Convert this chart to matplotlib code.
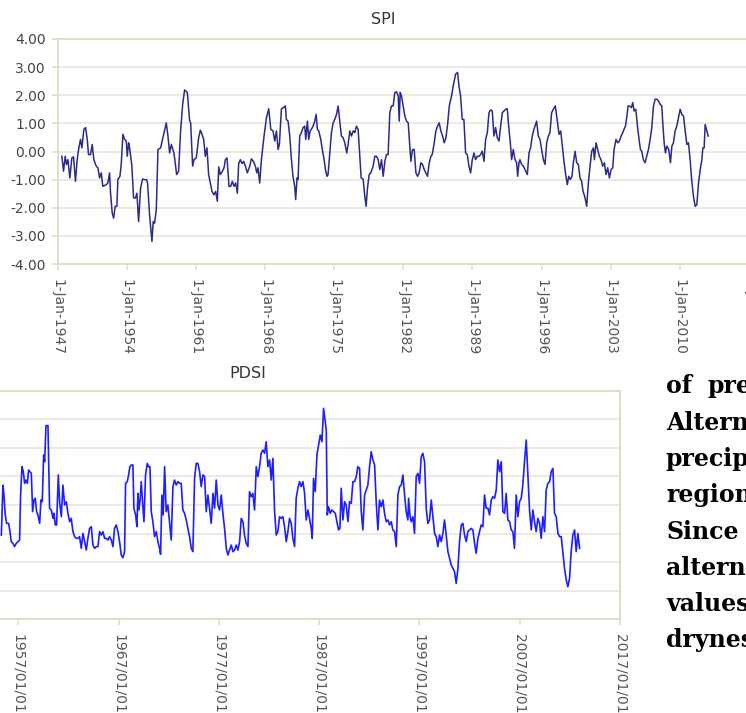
# SPI / PDSI drought index time series -----------------------------------

import matplotlib.pyplot as plt
from matplotlib.ticker import FormatStrFormatter


# Data ---------------------------------------------------------------------
# SPI (decimal year, index value)
spi_year = [
    1947.44, 1947.61, 1947.78, 1947.91, 1948.05, 1948.25, 1948.45, 1948.62,
    1948.82, 1948.99, 1949.16, 1949.33, 1949.47, 1949.67, 1949.84, 1950.01,
    1950.14, 1950.34, 1950.51, 1950.68, 1950.92, 1951.09, 1951.26, 1951.43,
    1951.59, 1951.76, 1951.93, 1952.10, 1952.27, 1952.37, 1952.54, 1952.68,
    1952.84, 1953.01, 1953.11, 1953.32, 1953.45, 1953.62, 1953.79, 1953.96,
    1954.06, 1954.20, 1954.30, 1954.53, 1954.70, 1954.90, 1955.04, 1955.21,
    1955.41, 1955.61, 1955.82, 1956.02, 1956.12, 1956.32, 1956.56, 1956.69,
    1956.83, 1957.00, 1957.17, 1957.44, 1957.67, 1958.01, 1958.18, 1958.35,
    1958.52, 1958.79, 1959.06, 1959.26, 1959.46, 1959.67, 1959.87, 1960.14,
    1960.38, 1960.48, 1960.68, 1960.82, 1961.05, 1961.29, 1961.46, 1961.63,
    1961.80, 1961.96, 1962.13, 1962.30, 1962.44, 1962.64, 1962.84, 1963.01,
    1963.18, 1963.32, 1963.48, 1963.69, 1963.86, 1963.99, 1964.16, 1964.36,
    1964.53, 1964.70, 1964.87, 1965.04, 1965.21, 1965.34, 1965.51, 1965.68,
    1965.85, 1966.02, 1966.22, 1966.46, 1966.63, 1966.83, 1967.03, 1967.17,
    1967.30, 1967.47, 1967.64, 1967.91, 1968.15, 1968.38, 1968.59, 1968.82,
    1968.99, 1969.16, 1969.33, 1969.46, 1969.67, 1969.87, 1970.07, 1970.17,
    1970.34, 1970.51, 1970.68, 1970.84, 1971.01, 1971.11, 1971.25, 1971.35,
    1971.52, 1971.69, 1971.86, 1972.03, 1972.13, 1972.30, 1972.43, 1972.57,
    1972.70, 1972.87, 1973.04, 1973.18, 1973.31, 1973.45, 1973.65, 1973.78,
    1973.99, 1974.12, 1974.29, 1974.39, 1974.56, 1974.73, 1974.90, 1975.07,
    1975.24, 1975.41, 1975.57, 1975.74, 1975.91, 1976.08, 1976.28, 1976.42,
    1976.59, 1976.76, 1976.93, 1977.09, 1977.26, 1977.43, 1977.60, 1977.74,
    1977.94, 1978.11, 1978.24, 1978.38, 1978.55, 1978.72, 1978.95, 1979.12,
    1979.29, 1979.46, 1979.63, 1979.80, 1979.97, 1980.14, 1980.30, 1980.47,
    1980.64, 1980.81, 1980.98, 1981.15, 1981.32, 1981.49, 1981.59, 1981.69,
    1981.82, 1981.99, 1982.16, 1982.33, 1982.50, 1982.64, 1982.77, 1982.94,
    1983.11, 1983.28, 1983.45, 1983.61, 1983.78, 1983.95, 1984.12, 1984.29,
    1984.46, 1984.63, 1984.80, 1984.93, 1985.14, 1985.30, 1985.47, 1985.64,
    1985.81, 1985.98, 1986.15, 1986.32, 1986.49, 1986.66, 1986.89, 1987.09,
    1987.30, 1987.50, 1987.64, 1987.80, 1987.97, 1988.14, 1988.31, 1988.48,
    1988.65, 1988.82, 1988.99, 1989.16, 1989.32, 1989.49, 1989.66, 1989.83,
    1990.00, 1990.17, 1990.34, 1990.51, 1990.68, 1990.84, 1991.01, 1991.18,
    1991.35, 1991.52, 1991.69, 1991.86, 1992.03, 1992.20, 1992.36, 1992.53,
    1992.70, 1992.84, 1992.97, 1993.14, 1993.31, 1993.48, 1993.58, 1993.72,
    1993.81, 1993.98, 1994.15, 1994.32, 1994.56, 1994.73, 1994.89, 1995.06,
    1995.23, 1995.44, 1995.50, 1995.67, 1995.84, 1996.01, 1996.18, 1996.35,
    1996.52, 1996.69, 1996.85, 1997.02, 1997.19, 1997.39, 1997.60, 1997.77,
    1997.94, 1998.10, 1998.27, 1998.44, 1998.61, 1998.75, 1998.91, 1999.08,
    1999.22, 1999.39, 1999.56, 1999.73, 1999.89, 2000.06, 2000.20, 2000.37,
    2000.57, 2000.74, 2000.91, 2001.08, 2001.25, 2001.35, 2001.52, 2001.69,
    2001.85, 2002.02, 2002.19, 2002.36, 2002.53, 2002.70, 2002.87, 2003.04,
    2003.21, 2003.34, 2003.54, 2003.71, 2003.88, 2004.05, 2004.22, 2004.35,
    2004.49, 2004.62, 2004.76, 2004.89, 2005.10, 2005.23, 2005.37, 2005.54,
    2005.71, 2005.87, 2006.01, 2006.14, 2006.31, 2006.48, 2006.65, 2006.82,
    2006.99, 2007.16, 2007.33, 2007.50, 2007.66, 2007.83, 2008.00, 2008.17,
    2008.27, 2008.41, 2008.54, 2008.68, 2008.88, 2009.05, 2009.19, 2009.35,
    2009.52, 2009.69, 2009.86, 2010.03, 2010.20, 2010.37, 2010.54, 2010.71,
    2010.87, 2011.04, 2011.21, 2011.38, 2011.55, 2011.72, 2011.89, 2012.06,
    2012.23, 2012.33, 2012.46, 2012.56, 2012.73, 2012.87,
]
spi_value = [
    -0.17, -0.70, -0.17, -0.46, -0.29, -0.94, -0.23, -0.19,
    -1.06, -0.29, 0.13, 0.43, 0.13, 0.79, 0.85, 0.43,
    -0.11, -0.11, 0.25, -0.29, -0.52, -0.58, -0.94, -0.76,
    -1.24, -1.21, -1.18, -1.12, -0.76, -1.48, -2.19, -2.37,
    -1.95, -1.95, -1.00, -0.88, -0.46, 0.61, 0.43, 0.37,
    -0.17, 0.31, 0.13, -0.52, -1.65, -1.65, -1.48, -2.49,
    -1.30, -0.98, -1.00, -1.00, -1.14, -2.25, -3.20, -2.49,
    -2.55, -2.07, 0.07, 0.13, 0.49, 1.02, 0.55, -0.05,
    0.25, -0.05, -0.82, -0.70, 0.73, 1.68, 2.19, 2.10,
    1.08, 1.02, -0.52, -0.29, -0.23, 0.49, 0.76, 0.61,
    0.43, -0.17, 0.13, -0.82, -1.06, -1.42, -1.54, -1.42,
    -1.77, -0.55, -0.82, -0.70, -0.58, -0.29, -0.23, -1.24,
    -1.24, -1.06, -1.24, -1.12, -1.48, -0.43, -0.29, -0.43,
    -0.35, -0.52, -0.76, -0.52, -0.26, -0.35, -0.52, -0.76,
    -0.58, -1.12, -0.29, 0.55, 1.20, 1.52, 0.79, 0.73,
    0.37, 0.73, 0.07, 0.25, 1.52, 1.56, 1.62, 1.14,
    1.08, 0.55, -0.29, -0.88, -1.24, -1.71, -0.94, -1.00,
    0.55, 0.67, 0.85, 0.90, 0.43, 1.08, 0.43, 0.73,
    0.79, 0.90, 1.08, 1.32, 0.79, 0.73, 0.43, 0.13,
    -0.29, -0.64, -0.88, -0.82, -0.05, 0.67, 1.02, 1.14,
    1.32, 1.62, 1.08, 0.55, 0.49, 0.31, -0.05, 0.25,
    0.73, 0.55, 0.73, 0.67, 0.90, 0.79, -0.17, -0.94,
    -0.98, -1.60, -1.95, -1.30, -0.82, -0.76, -0.52, -0.17,
    -0.17, -0.29, -0.64, -0.29, -0.88, -0.35, -0.11, -0.11,
    1.38, 1.62, 1.62, 2.10, 2.12, 1.98, 1.08, 2.10,
    1.98, 1.62, 1.26, 1.08, 1.02, 0.31, -0.35, 0.07,
    0.07, -0.76, -0.88, -0.76, -0.40, -0.46, -0.64, -0.76,
    -0.88, -0.40, -0.17, -0.11, 0.31, 0.73, 0.90, 1.02,
    0.73, 0.55, 0.31, 0.49, 0.96, 1.62, 1.98, 2.39,
    2.75, 2.81, 2.33, 1.98, 1.14, 1.14, -0.05, -0.11,
    -0.52, -0.76, -0.29, -0.05, -0.29, -0.17, -0.17, -0.11,
    0.01, -0.35, 0.43, 0.67, 1.38, 1.48, 1.44, 0.55,
    0.85, 0.49, 0.37, 0.90, 1.38, 1.44, 1.50, 1.52,
    0.79, 0.31, -0.29, 0.07, -0.29, -0.40, -0.88, -0.40,
    -0.29, -0.46, -0.52, -0.64, -0.82, -0.05, 0.13, 0.55,
    0.79, 1.02, 1.08, 0.55, 0.43, 0.07, -0.29, -0.46,
    0.31, 0.55, 0.67, 1.38, 1.50, 1.62, 1.08, 0.61,
    0.73, 0.19, -0.35, -0.82, -1.18, -0.88, -1.00, -0.88,
    -0.40, 0.01, -0.40, -0.46, -0.94, -1.06, -1.42, -1.60,
    -1.95, -1.12, -0.52, 0.01, 0.13, -0.29, 0.31, 0.07,
    -0.17, -0.29, -0.52, -0.40, -0.82, -0.58, -0.94, -0.64,
    -0.58, 0.07, 0.43, 0.31, 0.37, 0.55, 0.67, 0.79,
    0.90, 1.20, 1.62, 1.62, 1.56, 1.74, 1.44, 1.50,
    0.90, 0.43, 0.07, 0.01, -0.29, -0.40, -0.17, 0.07,
    0.43, 0.85, 1.62, 1.86, 1.86, 1.80, 1.68, 1.62,
    1.02, 0.31, -0.05, 0.19, 0.07, -0.40, 0.19, 0.31,
    0.73, 0.90, 1.20, 1.50, 1.32, 1.26, 0.73, 0.25,
    0.31, -0.29, -1.06, -1.60, -1.95, -1.89, -1.12, -0.64,
    -0.29, 0.13, 0.13, 0.96, 0.73, 0.55,
]

# PDSI (decimal year, index value)
pdsi_year = [
    1955.31, 1955.47, 1955.57, 1955.70, 1955.84, 1956.04, 1956.17, 1956.30,
    1956.47, 1956.63, 1956.80, 1956.97, 1957.13, 1957.23, 1957.37, 1957.50,
    1957.63, 1957.76, 1957.90, 1958.03, 1958.16, 1958.30, 1958.43, 1958.56,
    1958.69, 1958.83, 1958.96, 1959.13, 1959.26, 1959.39, 1959.53, 1959.63,
    1959.76, 1959.96, 1960.12, 1960.29, 1960.46, 1960.56, 1960.69, 1960.82,
    1960.99, 1961.12, 1961.29, 1961.45, 1961.62, 1961.79, 1961.95, 1962.12,
    1962.28, 1962.45, 1962.62, 1962.78, 1962.95, 1963.11, 1963.28, 1963.45,
    1963.61, 1963.78, 1963.94, 1964.11, 1964.28, 1964.44, 1964.61, 1964.78,
    1964.94, 1965.11, 1965.27, 1965.44, 1965.61, 1965.77, 1965.94, 1966.10,
    1966.27, 1966.44, 1966.60, 1966.77, 1966.94, 1967.10, 1967.27, 1967.43,
    1967.60, 1967.70, 1967.87, 1968.00, 1968.13, 1968.27, 1968.43, 1968.53,
    1968.70, 1968.83, 1968.93, 1969.03, 1969.16, 1969.26, 1969.40, 1969.53,
    1969.69, 1969.86, 1969.99, 1970.13, 1970.26, 1970.42, 1970.59, 1970.76,
    1970.92, 1971.09, 1971.19, 1971.32, 1971.45, 1971.59, 1971.75, 1971.92,
    1972.09, 1972.25, 1972.42, 1972.58, 1972.75, 1972.92, 1973.08, 1973.25,
    1973.41, 1973.58, 1973.75, 1973.91, 1974.08, 1974.25, 1974.41, 1974.58,
    1974.74, 1974.91, 1975.08, 1975.24, 1975.41, 1975.58, 1975.74, 1975.91,
    1976.07, 1976.24, 1976.41, 1976.57, 1976.74, 1976.91, 1977.07, 1977.24,
    1977.40, 1977.57, 1977.74, 1977.90, 1978.07, 1978.24, 1978.40, 1978.57,
    1978.73, 1978.90, 1979.07, 1979.23, 1979.40, 1979.56, 1979.73, 1979.90,
    1980.06, 1980.23, 1980.39, 1980.56, 1980.73, 1980.89, 1981.06, 1981.22,
    1981.39, 1981.56, 1981.72, 1981.89, 1982.06, 1982.22, 1982.39, 1982.55,
    1982.72, 1982.89, 1983.05, 1983.22, 1983.38, 1983.55, 1983.72, 1983.88,
    1984.05, 1984.22, 1984.38, 1984.55, 1984.71, 1984.88, 1985.05, 1985.21,
    1985.38, 1985.55, 1985.71, 1985.88, 1986.04, 1986.21, 1986.31, 1986.44,
    1986.61, 1986.78, 1986.94, 1987.11, 1987.28, 1987.44, 1987.61, 1987.71,
    1987.81, 1987.94, 1988.11, 1988.27, 1988.44, 1988.61, 1988.77, 1988.94,
    1989.07, 1989.20, 1989.37, 1989.54, 1989.70, 1989.87, 1990.03, 1990.20,
    1990.37, 1990.53, 1990.70, 1990.86, 1991.03, 1991.20, 1991.36, 1991.53,
    1991.70, 1991.86, 1992.03, 1992.19, 1992.36, 1992.53, 1992.69, 1992.86,
    1993.02, 1993.19, 1993.36, 1993.52, 1993.69, 1993.86, 1994.02, 1994.19,
    1994.35, 1994.52, 1994.69, 1994.85, 1995.02, 1995.19, 1995.35, 1995.52,
    1995.68, 1995.85, 1995.92, 1996.05, 1996.18, 1996.35, 1996.51, 1996.68,
    1996.85, 1997.01, 1997.18, 1997.34, 1997.51, 1997.68, 1997.84, 1998.01,
    1998.18, 1998.34, 1998.51, 1998.67, 1998.84, 1999.01, 1999.17, 1999.34,
    1999.50, 1999.67, 1999.84, 2000.00, 2000.17, 2000.34, 2000.50, 2000.67,
    2000.84, 2001.00, 2001.17, 2001.33, 2001.50, 2001.67, 2001.83, 2002.00,
    2002.16, 2002.33, 2002.50, 2002.66, 2002.83, 2003.00, 2003.16, 2003.33,
    2003.49, 2003.66, 2003.83, 2003.99, 2004.16, 2004.32, 2004.49, 2004.66,
    2004.82, 2004.99, 2005.16, 2005.32, 2005.49, 2005.65, 2005.82, 2005.99,
    2006.15, 2006.32, 2006.48, 2006.65, 2006.82, 2006.98, 2007.15, 2007.31,
    2007.48, 2007.65, 2007.81, 2007.98, 2008.15, 2008.31, 2008.48, 2008.64,
    2008.81, 2008.98, 2009.14, 2009.31, 2009.48, 2009.64, 2009.81, 2009.98,
    2010.14, 2010.31, 2010.47, 2010.64, 2010.81, 2010.97, 2011.14, 2011.30,
    2011.47, 2011.64, 2011.80, 2011.97, 2012.13, 2012.30, 2012.47, 2012.63,
    2012.80, 2012.97,
]
pdsi_value = [
    -2.11, 1.40, 0.70, -0.70, -1.29, -1.29, -1.87, -2.57,
    -2.69, -2.92, -2.69, -2.57, -2.46, 0.70, 2.69, 2.34,
    1.52, 1.75, 1.52, 2.46, 2.34, 2.22, -0.47, 0.35,
    0.47, -0.47, -0.70, -1.29, 0.35, 0.23, 3.51, 3.04,
    5.57, 5.57, -0.23, -0.35, -0.94, -0.58, -1.40, -1.40,
    2.11, 0.23, -0.82, 1.40, 0.00, 0.23, -0.58, -1.17,
    -0.94, -1.87, -2.22, -2.34, -2.34, -2.22, -3.04, -1.99,
    -2.57, -3.16, -2.34, -1.64, -1.52, -2.81, -3.04, -2.92,
    -2.92, -1.87, -2.11, -1.87, -2.34, -2.34, -2.46, -2.22,
    -2.46, -2.92, -1.64, -1.40, -1.87, -2.57, -3.51, -3.70,
    -3.27, 1.52, 1.64, 2.11, 2.69, 2.81, 2.81, -0.23,
    -0.70, -1.52, 0.82, -0.35, 0.47, 1.64, 0.12, -1.17,
    2.11, 2.92, 2.69, 2.69, -0.47, -1.17, -2.22, -1.87,
    -2.57, -3.04, -3.46, 0.70, -0.70, 2.69, -0.47, 0.00,
    -1.29, -2.46, 1.29, 1.75, 1.40, 1.64, 1.52, 1.52,
    -0.35, -0.58, -1.05, -1.64, -2.22, -3.04, -3.27, 1.87,
    2.92, 2.92, 2.34, 1.29, 2.11, 1.99, -0.47, 0.70,
    -0.23, -1.29, 0.82, -0.23, 1.75, 0.00, -0.35, 0.70,
    -0.58, -1.64, -3.04, -3.51, -3.16, -2.81, -3.27, -3.16,
    -2.81, -3.16, -2.57, -0.94, -1.17, -2.11, -2.69, -2.92,
    0.94, 0.58, 0.82, -0.35, 2.69, 1.99, 2.69, 3.63,
    3.86, 3.63, 4.44, 2.69, 3.16, 1.75, 3.27, -0.35,
    -2.11, -1.87, -0.82, -0.94, -0.82, -1.52, -2.57, -1.87,
    -0.94, -1.29, -2.34, -2.92, 0.47, 1.17, 1.64, 1.29,
    1.64, 0.82, -1.05, -0.35, -0.94, -1.64, -2.34, 1.87,
    0.94, 3.51, 4.21, 4.91, 4.44, 6.78, 5.85, 5.26,
    -0.70, -0.12, -0.58, -0.35, -0.47, -0.58, -1.17, -1.75,
    -1.64, 1.17, -1.05, 0.23, 0.00, -1.17, 0.23, 0.12,
    1.64, 1.64, 1.99, 2.69, 2.57, -0.47, -1.75, 0.70,
    1.05, 1.40, 2.69, 3.74, 3.16, 2.81, 0.23, -1.75,
    0.35, -0.12, 0.35, -0.58, -1.17, -1.05, -1.40, -1.17,
    -1.75, -1.87, -2.92, 0.70, 1.29, 1.40, 2.11, 0.70,
    -0.47, -1.05, 0.47, -0.70, -1.17, -0.82, -1.99, 1.99,
    2.22, 1.52, 3.39, 3.63, 3.04, -0.23, -1.29, -1.05,
    0.35, -0.82, -1.99, -2.22, -2.92, -2.11, -2.57, -1.99,
    -1.05, -2.11, -3.27, -3.74, -4.21, -4.44, -4.68, -5.50,
    -4.44, -2.57, -1.40, -1.29, -2.11, -2.57, -1.87, -1.75,
    -1.64, -1.75, -2.69, -3.39, -2.34, -1.87, -1.40, -1.52,
    0.70, -0.23, -0.23, -0.70, 0.35, 0.58, 0.47, 1.05,
    3.16, 2.34, 3.04, -0.47, -0.58, 0.82, -1.05, -1.17,
    -1.75, -1.87, -3.04, 0.70, -0.82, 0.23, 0.47, 1.40,
    3.04, 4.56, 2.11, -0.35, -1.75, -0.35, -1.17, -1.87,
    -0.94, -1.29, -2.34, -0.82, -1.87, 1.05, 1.52, 1.64,
    2.34, 2.57, -0.58, -0.82, -1.99, -2.22, -2.22, -3.27,
    -4.44, -5.26, -5.73, -5.15, -3.27, -2.11, -1.75, -3.27,
    -1.99, -3.04,
]

# Axis ticks
spi_tick_years = [1947, 1954, 1961, 1968, 1975, 1982, 1989, 1996, 2003, 2010, 2017]
pdsi_tick_years = [1947, 1957, 1967, 1977, 1987, 1997, 2007, 2017]
spi_yticks = [-4, -3, -2, -1, 0, 1, 2, 3, 4]
pdsi_yticks = [-8, -6, -4, -2, 0, 2, 4, 6, 8]

# Body text beside the PDSI chart
side_lines = ["Alternatively", "precipitation", "regions", "Since",
              "alternatively", "values", "dryness"]


# Style ----------------------------------------------------------------------
W, H = 746, 713
frame_color = "#DCDCC4"
grid_color = "#E4E4DA"
label_color = "#444444"

plt.rcParams["font.family"] = "DejaVu Sans"


def px_box(left, top, right, bottom):
    # pixel box -> figure fraction [left, bottom, width, height]
    return [left / W, 1 - bottom / H, (right - left) / W, (bottom - top) / H]


def style_axes(ax, hide_left):
    ax.grid(axis="y", color=grid_color, linewidth=1.1)
    ax.set_axisbelow(True)
    for side in ["top", "bottom", "left", "right"]:
        ax.spines[side].set_color(frame_color)
        ax.spines[side].set_linewidth(1.3)
    ax.tick_params(axis="both", colors=frame_color, length=4, width=1.1,
                   labelcolor=label_color, labelsize=10)
    ax.tick_params(axis="x", pad=6.5)
    ax.tick_params(axis="y", pad=4.5)
    if hide_left:
        ax.tick_params(axis="y", left=False, labelleft=False)


fig = plt.figure(figsize=(W / 100, H / 100), dpi=100)

# SPI ------------------------------------------------------------------------
ax1 = fig.add_axes(px_box(57.5, 39, 749, 264))
ax1.plot(spi_year, spi_value, color="#2B2B8C", linewidth=1.1)
ax1.set_xlim(1947, 2017)
ax1.set_ylim(-4, 4)
ax1.set_yticks(spi_yticks)
ax1.yaxis.set_major_formatter(FormatStrFormatter("%.2f"))
ax1.set_xticks(spi_tick_years)
ax1.set_xticklabels([f"1-Jan-{y}" for y in spi_tick_years],
                    rotation=270, ha="center", va="top")
style_axes(ax1, hide_left=False)
ax1.tick_params(axis="x", labelcolor="#555555")
fig.text(383 / W, 1 - 20 / H, "SPI", ha="center", va="center",
         fontsize=11.5, color="#333333")

# PDSI -----------------------------------------------------------------------
ax2 = fig.add_axes(px_box(-82, 391, 620, 619))
ax2.plot(pdsi_year, pdsi_value, color="#1E1EFF", linewidth=1.2)
ax2.set_xlim(1947, 2017)
ax2.set_ylim(-8, 8)
ax2.set_yticks(pdsi_yticks)
ax2.set_xticks(pdsi_tick_years)
ax2.set_xticklabels([f"{y}/01/01" for y in pdsi_tick_years],
                    rotation=270, ha="center", va="top")
style_axes(ax2, hide_left=True)
ax2.tick_params(axis="x", labelcolor="#555555")
fig.text(248 / W, 1 - 373 / H, "PDSI", ha="center", va="center",
         fontsize=11.5, color="#333333")

# Body text ------------------------------------------------------------------
text_kw = dict(fontsize=17, fontweight="bold", family="DejaVu Serif",
               color="black", va="baseline", ha="left")
fig.text(666 / W, 1 - 393 / H, "of", **text_kw)
fig.text(708 / W, 1 - 393 / H, "precipitation", **text_kw)
for i, line in enumerate(side_lines):
    fig.text(666 / W, 1 - (430 + 36.2 * i) / H, line, **text_kw)

fig.savefig("out.png", dpi=100)
plt.close(fig)
